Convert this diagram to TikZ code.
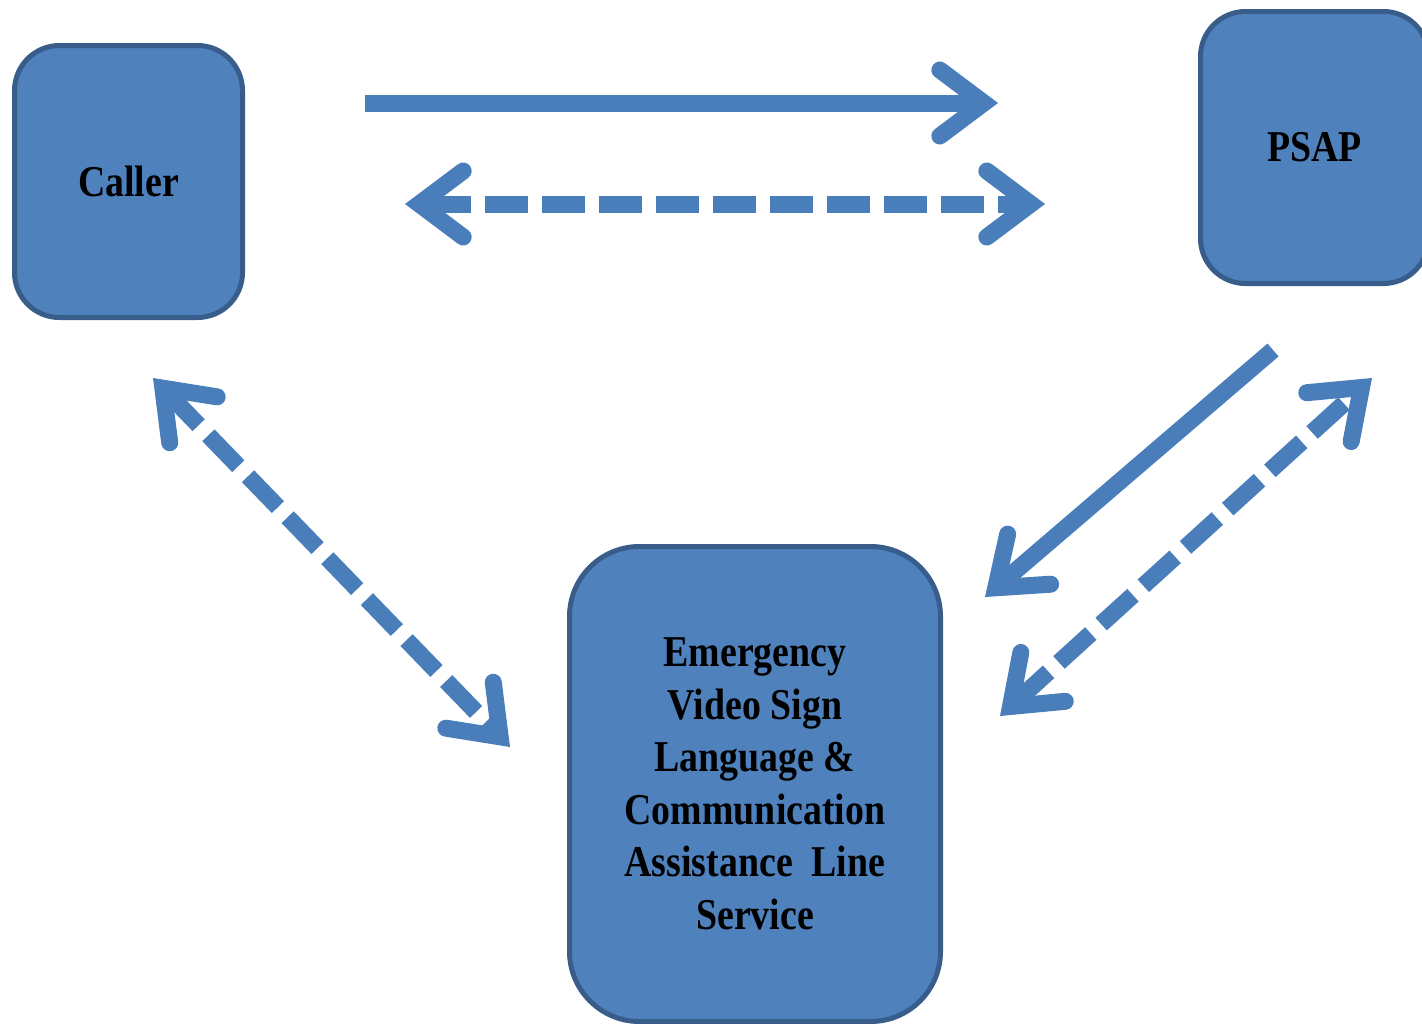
\documentclass[tikz,border=0pt]{standalone}
\usepackage{fontspec}
\newfontfamily\labelfont{Liberation Serif}[FakeStretch=0.86]
\usepackage{tikz}
\usetikzlibrary{arrows.meta}
\definecolor{boxfill}{HTML}{4F81BD}
\definecolor{boxline}{HTML}{385D8A}
\definecolor{arrowblue}{HTML}{4A7EBB}
\tikzstyle{party} = [rectangle, rounded corners=45pt, line width=5pt, draw=boxline, fill=boxfill, text centered, font=\labelfont\bfseries\fontsize{44}{52.5}\selectfont]
\tikzstyle{arrow} = [line width=17pt, draw=arrowblue, ->, >={Straight Barb[length=44pt, width=66pt, line cap=round, line join=miter]}]
\tikzstyle{twoway} = [arrow, <->, dash pattern=on 43pt off 14pt]

\begin{document}
\begin{tikzpicture}[x=1pt, y=-1pt]
    \clip (0,0) rectangle (1422,1023);
    \node (caller) [party, minimum width=228pt, minimum height=272pt] at (128.5,181.5) {Caller};
    \node (psap) [party, minimum width=228pt, minimum height=272pt] at (1314.5,147.5) {PSAP};
    \node (evs) [party, rounded corners=70pt, minimum width=371pt, minimum height=475pt, align=center] at (755,784) {Emergency\\Video Sign\\Language \&\\Communication\\Assistance\ \ Line\\Service};

    % loose ends of the connectors
    \coordinate (call-out) at (365,103);
    \coordinate (call-in) at (998,103);
    \coordinate (talk-left) at (405,204);
    \coordinate (talk-right) at (1045,204);
    \coordinate (relay-top) at (153,378);
    \coordinate (relay-bottom) at (510,747);
    \coordinate (psap-out) at (1273,350);
    \coordinate (psap-in) at (985,597);
    \coordinate (back-top) at (1372,378);
    \coordinate (back-bottom) at (1000,716);

    \draw [arrow] (call-out) -- (call-in);
    \draw [twoway] (talk-left) -- (talk-right);
    \draw [twoway] (relay-top) -- (relay-bottom);
    \draw [arrow] (psap-out) -- (psap-in);
    \draw [twoway] (back-bottom) -- (back-top);
\end{tikzpicture}
\end{document}
